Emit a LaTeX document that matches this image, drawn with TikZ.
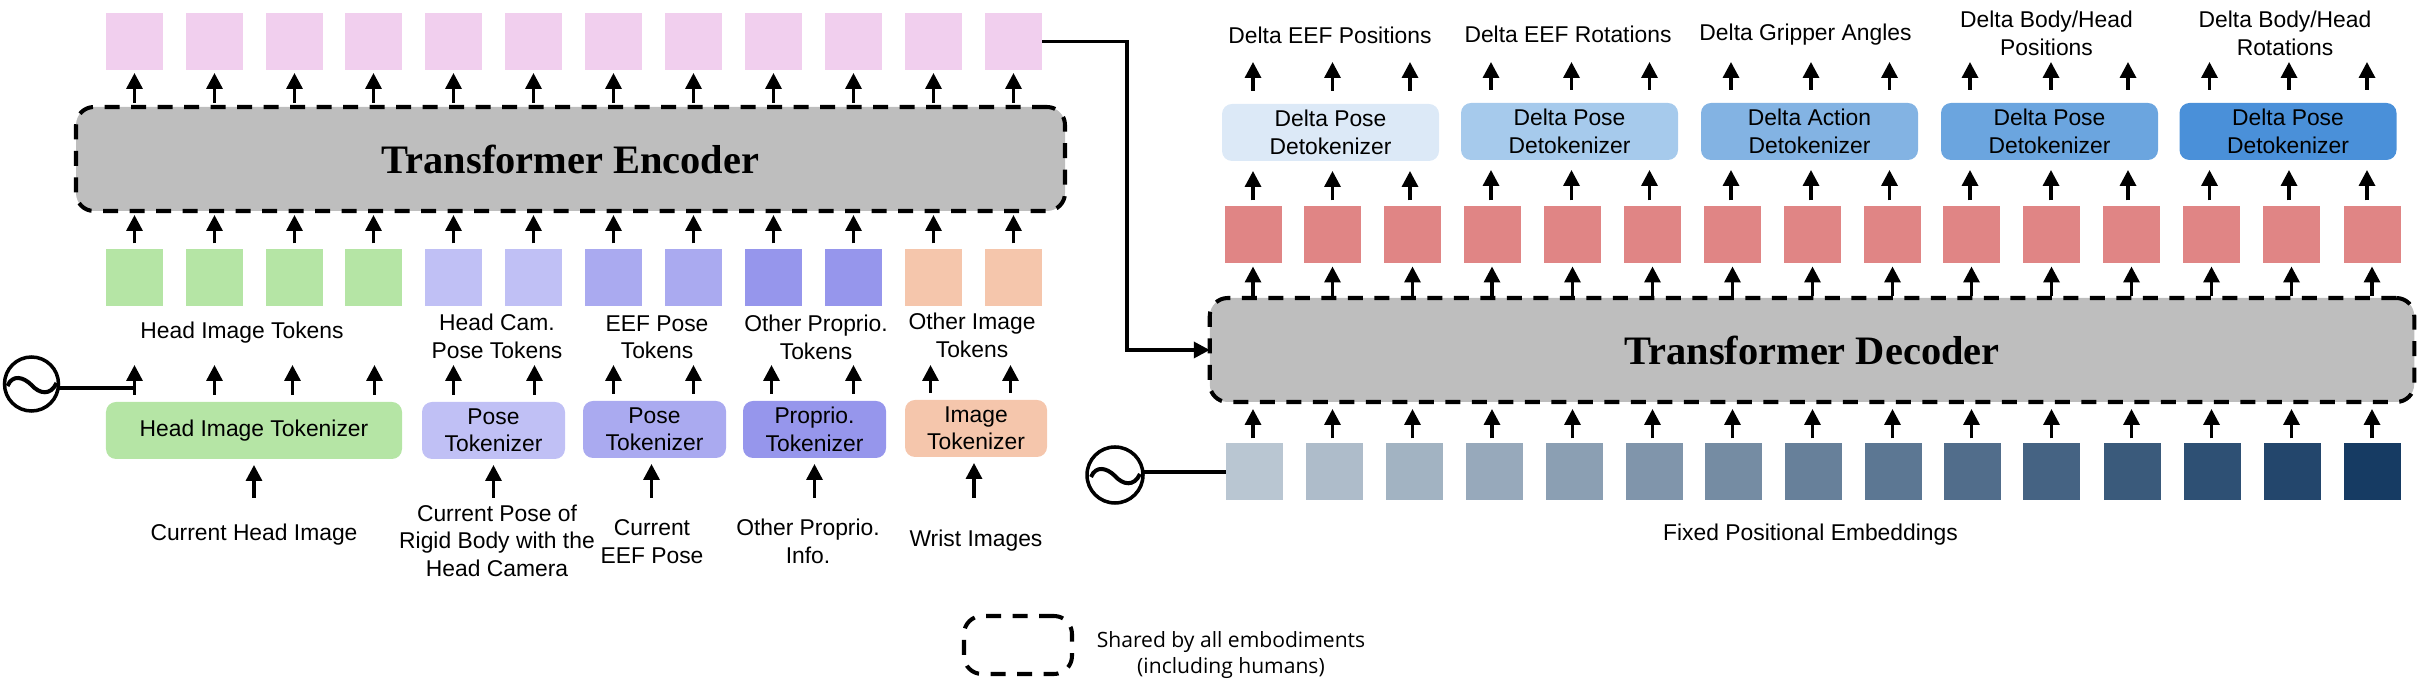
\documentclass[tikz,border=0pt]{standalone}
\usepackage{fontspec}
\setmainfont{Liberation Sans}
\newfontfamily\legendfont{Open Sans}
\newfontfamily\titlefont{Liberation Serif}
\usetikzlibrary{arrows.meta,calc}
\definecolor{tokpink}{RGB}{241,207,238}
\definecolor{headgreen}{RGB}{181,229,165}
\definecolor{camlav}{RGB}{192,192,245}
\definecolor{eeflav}{RGB}{170,170,240}
\definecolor{prolav}{RGB}{150,150,236}
\definecolor{imgpeach}{RGB}{245,198,172}
\definecolor{outred}{RGB}{224,133,133}
\definecolor{detokA}{RGB}{220,233,247}
\definecolor{detokB}{RGB}{166,202,236}
\definecolor{detokC}{RGB}{131,179,227}
\definecolor{detokD}{RGB}{107,165,223}
\definecolor{detokE}{RGB}{74,144,217}
\definecolor{poslight}{RGB}{185,198,210}
\definecolor{posdark}{RGB}{22,59,99}
\definecolor{sharedgrey}{RGB}{190,190,190}
\tikzset{
  tok/.style={minimum width=0.57cm,minimum height=0.57cm,inner sep=0pt,outer sep=0pt},
  tokbox/.style={rounded corners=0.1cm,minimum height=0.57cm,inner sep=0pt,outer sep=0pt,
    align=center,font=\fontsize{6.5}{7.8}\selectfont},
  lbl/.style={align=center,font=\fontsize{6.5}{7.8}\selectfont},
  sharedbox/.style={draw=black,line width=1.15pt,dash pattern=on 0.15cm off 0.115cm,
    rounded corners=0.18cm,inner sep=0pt,outer sep=0pt},
  bigtitle/.style={fill=sharedgrey,minimum height=1.04cm,
    font=\titlefont\fontsize{11.5}{13}\selectfont\bfseries},
  uparrow/.style={-{Triangle[length=1.6mm,width=1.6mm]},line width=0.95pt},
  peicon/.style={circle,draw=black,line width=1pt,minimum size=0.54cm,inner sep=0pt,outer sep=0pt},
}
\begin{document}
\begin{tikzpicture}
    \useasboundingbox (0,0) rectangle (24.24,6.90);

    % Encoder side tokens
    \foreach \i/\x/\c in {1/1.345/headgreen,2/2.145/headgreen,3/2.945/headgreen,4/3.735/headgreen,
      5/4.535/camlav,6/5.335/camlav,7/6.135/eeflav,8/6.935/eeflav,
      9/7.735/prolav,10/8.535/prolav,11/9.335/imgpeach,12/10.135/imgpeach}{
      \node[tok,fill=tokpink] (top\i) at (\x,6.485) {};
      \node[tok,fill=\c] (low\i) at (\x,4.12) {};
    }

    % Encoder
    \node[sharedbox,bigtitle,minimum width=9.89cm] (enc) at (5.705,5.31) {Transformer Encoder};

    % Tokenizers
    \node[tokbox,fill=headgreen,minimum width=2.96cm] (hit) at (2.54,2.595) {Head Image Tokenizer};
    \node[tokbox,fill=camlav,minimum width=1.43cm] (cam) at (4.935,2.595) {Pose\\Tokenizer};
    \node[tokbox,fill=eeflav,minimum width=1.43cm] (eef) at (6.545,2.605) {Pose\\Tokenizer};
    \node[tokbox,fill=prolav,minimum width=1.43cm] (pro) at (8.145,2.605) {Proprio.\\Tokenizer};
    \node[tokbox,fill=imgpeach,minimum width=1.42cm] (img) at (9.76,2.615) {Image\\Tokenizer};

    % Token labels
    \node[lbl] (lblhead) at (2.42,3.57) {Head Image Tokens};
    \node[lbl] (lblcam) at (4.97,3.535) {Head Cam.\\Pose Tokens};
    \node[lbl] (lbleef) at (6.57,3.53) {EEF Pose\\Tokens};
    \node[lbl] (lblpro) at (8.16,3.525) {Other Proprio.\\Tokens};
    \node[lbl] (lblimg) at (9.72,3.545) {Other Image\\Tokens};

    % Inputs
    \node[lbl] (inhead) at (2.54,1.55) {Current Head Image};
    \node[lbl] (incam) at (4.97,1.495) {Current Pose of\\Rigid Body with the\\Head Camera};
    \node[lbl] (ineef) at (6.52,1.485) {Current\\EEF Pose};
    \node[lbl] (inpro) at (8.08,1.485) {Other Proprio.\\Info.};
    \node[lbl] (inimg) at (9.76,1.49) {Wrist Images};

    % Free arrow ends
    \coordinate (tokhead) at (0,3.25);
    \coordinate (inbase) at (0,1.92);
    \coordinate (outhead) at (0,6.28);
    \coordinate (bendlink) at (11.27,0);

    % Encoder arrows
    \foreach \i in {1,...,12}{
      \draw[uparrow,shorten <=0.04cm,shorten >=0.03cm] (enc.north -| top\i.south) -- (top\i.south);
      \draw[uparrow,shorten <=0.06cm,shorten >=0.04cm] (low\i.north) -- (low\i.north |- enc.south);
    }
    \foreach \i/\t/\dx in {1/hit/0,2/hit/0,3/hit/-0.02,4/hit/0.01,5/cam/0,6/cam/0.01,7/eef/0,8/eef/0,
      9/pro/-0.02,10/pro/0,11/img/-0.03,12/img/-0.03}{
      \draw[uparrow,shorten <=0.07cm] ([xshift=\dx cm]low\i.south |- \t.north) -- ([xshift=\dx cm]low\i.south |- tokhead);
    }
    \foreach \t/\dx in {hit/0,cam/0,eef/-0.03,pro/0,img/-0.02}{
      \draw[uparrow,shorten >=0.06cm] ([xshift=\dx cm]\t.south |- inbase) -- ([xshift=\dx cm]\t.south);
    }

    % Encoder output into decoder
    \node[sharedbox,bigtitle,minimum width=12.045cm] (dec) at (18.12,3.40) {Transformer Decoder};
    \draw[-{Triangle[length=1.6mm,width=1.6mm]},line width=1pt]
      (top12.east) -- (top12.east -| bendlink) -- (dec.west -| bendlink) -- (dec.west);

    % Sine icons
    \node[peicon] (peh) at (0.315,3.06) {};
    \node[peicon,minimum size=0.56cm] (pef) at (11.15,2.15) {};
    \foreach \n in {peh,pef}{
      \draw[line width=1.15pt] ([shift={(-0.24,-0.02)}]\n.center)
        .. controls +(0.05,0.12) and +(-0.08,0.08) .. ([shift={(0,-0.01)}]\n.center)
        .. controls +(0.08,-0.09) and +(-0.06,-0.13) .. ([shift={(0.25,0.01)}]\n.center);
    }
    \coordinate (pehout) at ([yshift=-0.04cm]peh.east);
    \coordinate (pefout) at ([yshift=0.03cm]pef.east);

    % Decoder tokens
    \foreach \i/\x/\xp in {1/12.53/12.54,2/13.325/13.345,3/14.125/14.145,4/14.92/14.94,5/15.725/15.745,
      6/16.525/16.545,7/17.325/17.33,8/18.125/18.135,9/18.925/18.935,10/19.715/19.725,11/20.515/20.515,
      12/21.315/21.325,13/22.115/22.125,14/22.915/22.92,15/23.72/23.725}{
      \pgfmathtruncatemacro\p{(\i-1)*100/14}
      \node[tok,fill=outred] (red\i) at (\x,4.55) {};
      \node[tok,fill=posdark!\p!poslight] (pos\i) at (\xp,2.18) {};
    }
    \draw[line width=1pt] (pehout) -- (pehout -| low1.south);
    \draw[line width=1pt] (pefout) -- (pefout -| pos1.west);

    % Detokenizers
    \node[tokbox,fill=detokA,minimum width=2.17cm] (det1) at (13.305,5.575) {Delta Pose\\Detokenizer};
    \node[tokbox,fill=detokB,minimum width=2.17cm] (det2) at (15.695,5.585) {Delta Pose\\Detokenizer};
    \node[tokbox,fill=detokC,minimum width=2.17cm] (det3) at (18.095,5.585) {Delta Action\\Detokenizer};
    \node[tokbox,fill=detokD,minimum width=2.17cm] (det4) at (20.495,5.585) {Delta Pose\\Detokenizer};
    \node[tokbox,fill=detokE,minimum width=2.17cm] (det5) at (22.88,5.585) {Delta Pose\\Detokenizer};

    % Output labels
    \node[lbl] (outA) at (13.30,6.55) {Delta EEF Positions};
    \node[lbl] (outB) at (15.68,6.56) {Delta EEF Rotations};
    \node[lbl] (outC) at (18.055,6.55) {Delta Gripper Angles};
    \node[lbl] (outD) at (20.465,6.565) {Delta Body/Head\\Positions};
    \node[lbl] (outE) at (22.85,6.565) {Delta Body/Head\\Rotations};

    % Decoder arrows
    \foreach \i/\dx in {1/0,2/0,3/-0.025,4/-0.01,5/-0.01,6/-0.03,7/-0.015,8/-0.015,9/-0.03,
      10/-0.015,11/-0.005,12/-0.035,13/-0.02,14/-0.025,15/-0.05}{
      \pgfmathtruncatemacro\j{(\i+2)/3}
      \draw[uparrow,shorten <=0.05cm,shorten >=0.07cm] (pos\i.north -| red\i.south) -- (dec.south -| red\i.south);
      \draw[uparrow,shorten <=0.02cm,shorten >=0.03cm] (dec.north -| red\i.south) -- (red\i.south);
      \draw[uparrow,shorten <=0.06cm,shorten >=0.10cm] ([xshift=\dx cm]red\i.north) -- ([xshift=\dx cm]red\i.north |- det\j.south);
      \draw[uparrow,shorten <=0.13cm] ([xshift=\dx cm]red\i.north |- det\j.north) -- ([xshift=\dx cm]red\i.north |- outhead);
    }
    \node[lbl] (fixedpos) at (18.105,1.55) {Fixed Positional Embeddings};

    % Legend
    \node[sharedbox,minimum width=1.08cm,minimum height=0.58cm] (legendbox) at (10.18,0.45) {};
    \node[align=center,font=\legendfont\fontsize{6}{7.4}\selectfont] (legendtext) at (12.31,0.35)
      {Shared by all embodiments\\(including humans)};
  \end{tikzpicture}
\end{document}
